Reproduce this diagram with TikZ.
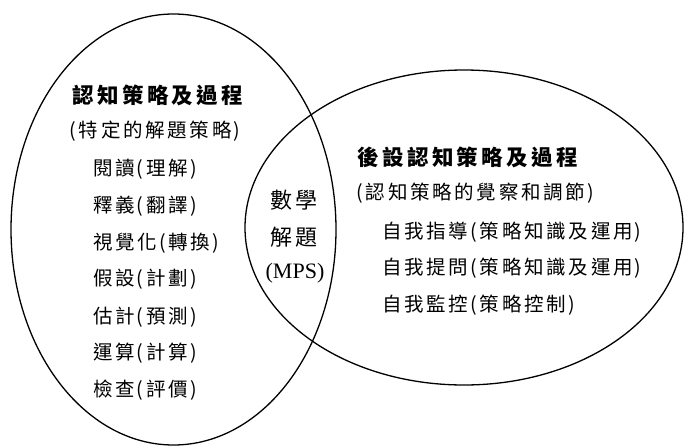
\documentclass[tikz,border=0pt]{standalone}
\usepackage{fontspec}
\newfontfamily\cjk{Noto Sans CJK TC}
\newfontfamily\mpsfont{Liberation Serif}
\newcommand{\lpar}{\hspace{2pt}(\hspace{3pt}}
\newcommand{\rpar}{\hspace{2pt})}
\tikzset{
  venn/.style={draw=black, line width=1.3pt},
  body/.style={anchor=west, inner sep=0pt, font=\cjk\fontsize{19.5}{22}\selectfont\addfontfeatures{LetterSpace=14}},
  headline/.style={anchor=west, inner sep=0pt, font=\cjk\bfseries\fontsize{21.5}{24}\selectfont\addfontfeatures{LetterSpace=16}},
  mid/.style={anchor=center, inner sep=0pt, font=\cjk\fontsize{22}{24}\selectfont\addfontfeatures{LetterSpace=12}},
  midlatin/.style={anchor=center, inner sep=0pt, font=\mpsfont\fontsize{22}{24}\selectfont}
}
\begin{document}
\begin{tikzpicture}[x=1pt,y=-1pt]
\useasboundingbox (0,0) rectangle (684,447);
% ellipses
\draw[venn] (173.5,229.5) ellipse [x radius=162.5pt, y radius=215.5pt];
\draw[venn] (464,227.5) ellipse [x radius=219pt, y radius=157.5pt];
% left set
\node[headline] (lt) at (72,95) {認知策略及過程};
\node[body] (ls) at (67,131) {\lpar 特定的解題策略\rpar};
\node[body] (l1) at (93,169) {閱讀\lpar 理解\rpar};
\node[body] (l2) at (93,206) {釋義\lpar 翻譯\rpar};
\node[body] (l3) at (93,243) {視覺化\lpar 轉換\rpar};
\node[body] (l4) at (93,279) {假設\lpar 計劃\rpar};
\node[body] (l5) at (93,317) {估計\lpar 預測\rpar};
\node[body] (l6) at (93,353) {運算\lpar 計算\rpar};
\node[body] (l7) at (93,390) {檢查\lpar 評價\rpar};
% middle
\node[mid] (m1) at (294,200) {數學};
\node[mid] (m2) at (294,237) {解題};
\node[midlatin] (m3) at (295,273) {(MPS)};
% right set
\node[headline] (rt) at (357,157) {後設認知策略及過程};
\node[body] (rs) at (354,193) {\lpar 認知策略的覺察和調節\rpar};
\node[body] (r1) at (382,232) {自我指導\lpar 策略知識及運用\rpar};
\node[body] (r2) at (382,268) {自我提問\lpar 策略知識及運用\rpar};
\node[body] (r3) at (382,305) {自我監控\lpar 策略控制\rpar};
\end{tikzpicture}
\end{document}
